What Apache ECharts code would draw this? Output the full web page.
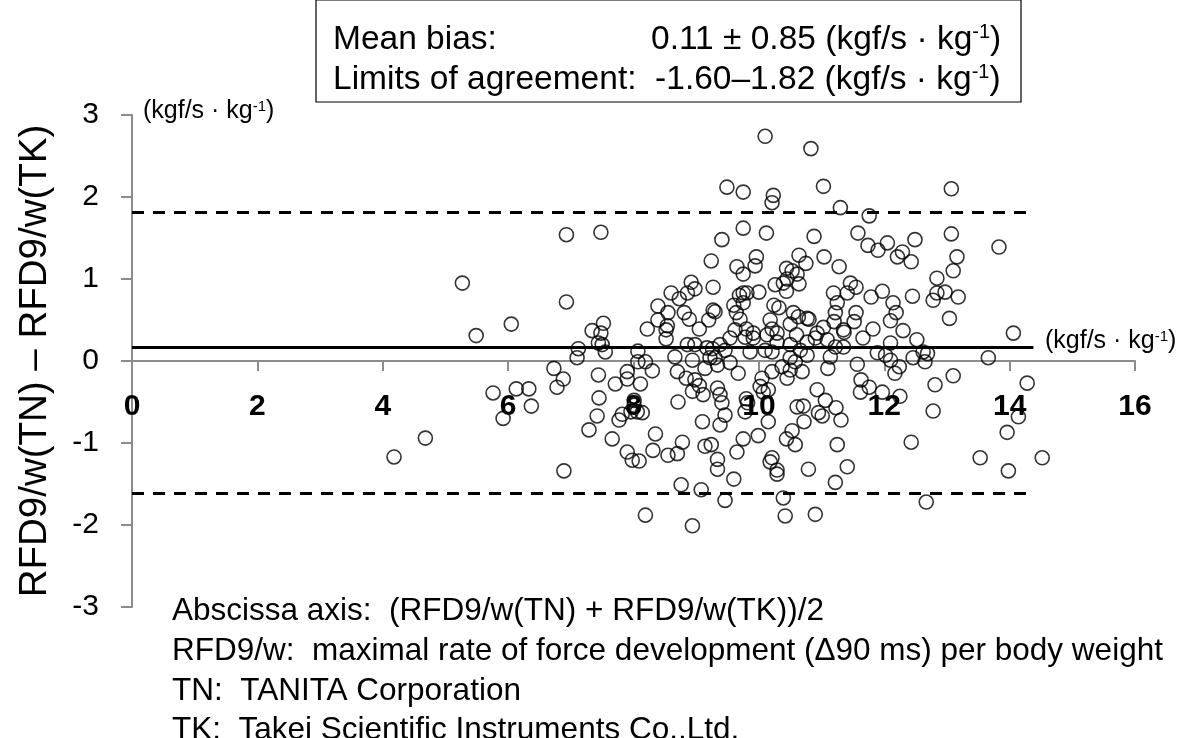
<!DOCTYPE html>
<html>
<head>
<meta charset="utf-8">
<script src="https://cdn.jsdelivr.net/npm/echarts@6/dist/echarts.min.js"></script>
<style>html,body{margin:0;padding:0;background:#fff}#c{width:1181px;height:738px}</style>
</head>
<body>
<div id="c"></div>
<script>
// Mean of the two methods (x) and difference (y)
const meanX = [5.27,6.05,5.49,4.18,4.68,5.76,6.13,6.33,6.37,5.92,
6.93,7.48,6.93,9.24,9.27,8.60,8.92,8.98,8.86,8.73,8.39,8.55,8.81,8.89,8.39,8.54,8.22,7.52,7.34,7.48,9.05,9.20,9.27,
7.50,7.44,7.55,7.12,7.10,6.73,6.88,6.78,8.52,8.07,8.07,8.19,8.30,7.90,7.90,8.11,7.71,7.44,7.45,8.01,8.01,8.06,8.14,7.96,7.82,7.77,7.42,7.29,7.66,7.90,7.98,8.09,8.35,8.31,8.55,8.70,8.78,6.89,8.76,9.08,8.19,8.94,8.71,9.10,9.14,8.66,8.70,8.84,8.94,8.98,8.94,9.11,9.05,9.14,9.17,8.98,8.52,8.86,9.22,
10.10,10.83,9.49,9.75,11.03,10.23,10.21,11.30,11.76,9.75,10.12,9.41,10.88,11.58,11.74,11.90,9.96,9.94,9.65,9.75,10.64,10.75,11.04,11.28,10.44,10.53,10.61,10.45,10.39,10.64,10.26,10.44,10.00,9.75,9.69,9.81,9.75,9.60,9.64,9.70,9.30,10.24,10.32,10.55,10.63,10.80,10.18,10.50,11.19,11.25,11.41,11.46,11.55,11.79,11.55,11.22,11.20,11.03,11.52,11.82,9.62,9.80,9.91,10.21,10.29,10.77,10.93,11.35,10.60,
9.26,9.38,9.46,9.30,9.54,9.67,9.78,9.91,10.13,10.29,10.10,10.21,10.50,10.66,10.50,10.37,10.21,10.69,10.45,10.05,10.02,10.07,10.15,9.34,9.38,9.41,9.80,9.78,9.46,9.38,10.15,10.61,10.71,10.93,11.06,10.95,11.01,11.23,11.31,10.72,10.53,10.44,10.58,9.99,9.75,9.65,9.24,9.34,9.34,9.60,10.21,10.18,10.29,10.29,10.79,11.25,11.41,11.22,9.46,10.39,10.42,10.90,11.57,11.63,11.62,11.76,11.10,11.14,11.22,11.35,11.09,11.36,11.66,11.89,11.97,10.77,10.90,10.77,10.58,10.50,9.82,9.86,9.34,9.54,
13.07,13.07,13.83,12.05,12.49,12.29,12.21,12.43,13.16,13.10,12.84,12.84,12.97,12.78,13.18,12.45,11.97,12.14,12.19,12.10,13.04,12.30,14.06,12.52,
12.10,12.69,12.62,12.46,12.65,12.02,12.10,12.24,12.17,13.66,13.10,12.81,12.25,12.78,12.43,14.28,14.14,13.96,13.53,13.98,14.52,12.67];
const diffY = [0.95,0.45,0.31,-1.17,-0.94,-0.39,-0.34,-0.34,-0.55,-0.70,
1.54,1.57,0.72,1.22,0.90,0.83,0.96,0.88,0.83,0.76,0.67,0.59,0.59,0.51,0.50,0.43,0.39,0.46,0.37,0.34,0.39,0.50,0.62,
0.20,0.22,0.11,0.15,0.04,-0.09,-0.22,-0.32,0.27,0.12,-0.01,-0.01,-0.12,-0.13,-0.22,-0.28,-0.28,-0.17,-0.45,-0.48,-0.54,-0.62,-0.63,-0.62,-0.65,-0.72,-0.67,-0.84,-0.95,-1.11,-1.21,-1.22,-0.89,-1.09,-1.15,-1.13,-0.99,-1.34,-1.51,-1.57,-1.88,-2.01,-0.50,-0.74,-1.04,0.05,-0.13,-0.21,0.01,-0.23,-0.37,-0.41,-0.30,-0.09,0.16,0.20,0.38,0.20,0.04,
2.74,2.59,2.12,2.06,2.13,2.02,1.93,1.87,1.77,1.62,1.56,1.48,1.52,1.56,1.41,1.35,1.27,1.16,1.15,1.06,1.29,1.19,1.27,1.15,1.13,1.10,1.06,1.00,0.95,0.94,0.93,0.85,0.84,0.83,0.80,0.83,0.71,0.68,0.59,0.51,0.60,0.68,0.65,0.59,0.54,0.51,0.50,0.45,0.83,0.71,0.83,0.95,0.90,0.78,0.59,0.59,0.48,0.41,0.48,0.39,0.38,0.39,0.34,0.39,0.34,0.52,0.34,0.38,0.32,
0.15,0.20,0.13,0.04,-0.02,-0.15,0.29,0.28,0.32,0.23,0.13,0.11,0.20,0.13,0.04,-0.07,-0.13,-0.13,-0.21,-0.21,-0.31,-0.38,-0.35,-0.33,-0.41,-0.51,-0.46,-0.62,-0.66,-0.78,-0.74,-0.56,-0.55,-0.35,-0.48,-0.63,-0.67,-0.57,-0.72,-0.74,-0.85,-0.95,-1.02,-0.91,-0.95,-1.11,-1.02,-1.20,-1.32,-1.44,-1.18,-1.23,-1.33,-1.38,-1.32,-1.02,-1.29,-1.48,-1.70,-1.67,-1.89,-1.87,-0.04,-0.23,-0.38,-0.32,-0.09,0.05,0.17,0.17,0.26,0.35,0.28,0.10,-0.38,0.23,0.28,0.07,-0.01,-0.11,-0.51,0.11,-0.05,0.28,
2.10,1.55,1.39,1.44,1.48,1.33,1.27,1.21,1.27,1.10,1.01,0.83,0.84,0.74,0.78,0.79,0.85,0.71,0.59,0.49,0.52,0.37,0.34,0.26,
0.22,0.09,0.11,0.04,-0.01,0.07,0.01,-0.07,-0.15,0.04,-0.18,-0.29,-0.43,-0.61,-0.99,-0.27,-0.68,-0.87,-1.18,-1.34,-1.18,-1.72];

const meanBias = 0.17;
const loaUpper = 1.82;
const loaLower = -1.61;
const lineStartX = 0;
const lineEndX = 14.38;
const xMin = 0, xMax = 16, xStep = 2;
const yMin = -3, yMax = 3, yStep = 1;

const FONT = '"Liberation Sans", Arial, sans-serif';
const points = meanX.map((x, i) => [x, diffY[i]]);

const chart = echarts.init(document.getElementById('c'), null, {renderer: 'canvas'});
const mainRich = {
  lab: {fontSize: 33.5, fontFamily: FONT, color: '#000', lineHeight: 40, verticalAlign: 'bottom', width: 318},
  n: {fontSize: 33.5, fontFamily: FONT, color: '#000', lineHeight: 40, verticalAlign: 'bottom'},
  s: {fontSize: 20, fontFamily: FONT, color: '#000', lineHeight: 40, verticalAlign: 'bottom', padding: [0, 0, 15, 0]}
};
const smallRich = {
  n: {fontSize: 25, fontFamily: FONT, color: '#000', lineHeight: 30, verticalAlign: 'bottom'},
  s: {fontSize: 15, fontFamily: FONT, color: '#000', lineHeight: 30, verticalAlign: 'bottom', padding: [0, 0, 10, 0]}
};
chart.setOption({
  animation: false,
  backgroundColor: '#fff',
  grid: {left: 132, right: 46, top: 115, bottom: 131, containLabel: false, outerBoundsMode: 'none'},
  xAxis: {
    type: 'value', min: xMin, max: xMax, interval: xStep,
    axisLine: {onZero: true, lineStyle: {color: '#8c8c8c', width: 2}},
    axisTick: {show: true, length: 10, inside: false, lineStyle: {color: '#8c8c8c', width: 2}},
    axisLabel: {fontSize: 30, fontWeight: 'bold', color: '#000', fontFamily: FONT, margin: -215},
    splitLine: {show: false}
  },
  yAxis: {
    type: 'value', min: yMin, max: yMax, interval: yStep,
    name: 'RFD9/w(TN) – RFD9/w(TK)', nameLocation: 'middle', nameGap: 77,
    nameTextStyle: {fontSize: 38.5, color: '#000', fontFamily: FONT},
    axisLine: {show: true, lineStyle: {color: '#8c8c8c', width: 2}},
    axisTick: {show: true, length: 11, lineStyle: {color: '#8c8c8c', width: 2}},
    axisLabel: {fontSize: 30, color: '#000', fontFamily: FONT, margin: 33},
    splitLine: {show: false}
  },
  series: [{
    type: 'scatter',
    data: points,
    symbol: 'circle',
    symbolSize: 14,
    itemStyle: {color: 'rgba(0,0,0,0)', borderColor: '#000', borderWidth: 1.6},
    silent: true,
    z: 3,
    markLine: {
      silent: true, symbol: 'none', label: {show: false}, animation: false,
      data: [
        [{coord: [lineStartX, meanBias], lineStyle: {type: 'solid', width: 3, color: '#000'}}, {coord: [lineEndX, meanBias]}],
        [{coord: [lineStartX, loaUpper], lineStyle: {type: [12, 9], width: 3, color: '#000'}}, {coord: [lineEndX, loaUpper]}],
        [{coord: [lineStartX, loaLower], lineStyle: {type: [12, 9], width: 3, color: '#000'}}, {coord: [lineEndX, loaLower]}]
      ]
    }
  }],
  graphic: [
    {type: 'rect', z: 10, shape: {x: 316, y: 0, width: 705, height: 102}, style: {fill: '#fff', stroke: '#000', lineWidth: 1.2}},
    {type: 'text', z: 11, x: 333, y: 17, style: {text: '{lab|Mean bias:}{n|0.11 ± 0.85 (kgf/s · kg}{s|-1}{n|)}', rich: mainRich}},
    {type: 'text', z: 11, x: 333, y: 57, style: {text: '{n|Limits of agreement:  -1.60–1.82 (kgf/s · kg}{s|-1}{n|)}', rich: mainRich}},
    {type: 'text', z: 11, x: 143, y: 94, style: {text: '{n|(kgf/s · kg}{s|-1}{n|)}', rich: smallRich}},
    {type: 'text', z: 11, x: 1045, y: 324, style: {text: '{n|(kgf/s · kg}{s|-1}{n|)}', rich: smallRich}},
    {type: 'text', z: 11, x: 172, y: 595, style: {text: 'Abscissa axis:  (RFD9/w(TN) + RFD9/w(TK))/2', font: '31.5px ' + FONT, fill: '#000'}},
    {type: 'text', z: 11, x: 172, y: 635, style: {text: 'RFD9/w:  maximal rate of force development (Δ90 ms) per body weight', font: '31.5px ' + FONT, fill: '#000'}},
    {type: 'text', z: 11, x: 172, y: 675, style: {text: 'TN:  TANITA Corporation', font: '31.5px ' + FONT, fill: '#000'}},
    {type: 'text', z: 11, x: 172, y: 714, style: {text: 'TK:  Takei Scientific Instruments Co.,Ltd.', font: '31.5px ' + FONT, fill: '#000'}}
  ]
});
</script>
</body>
</html>
